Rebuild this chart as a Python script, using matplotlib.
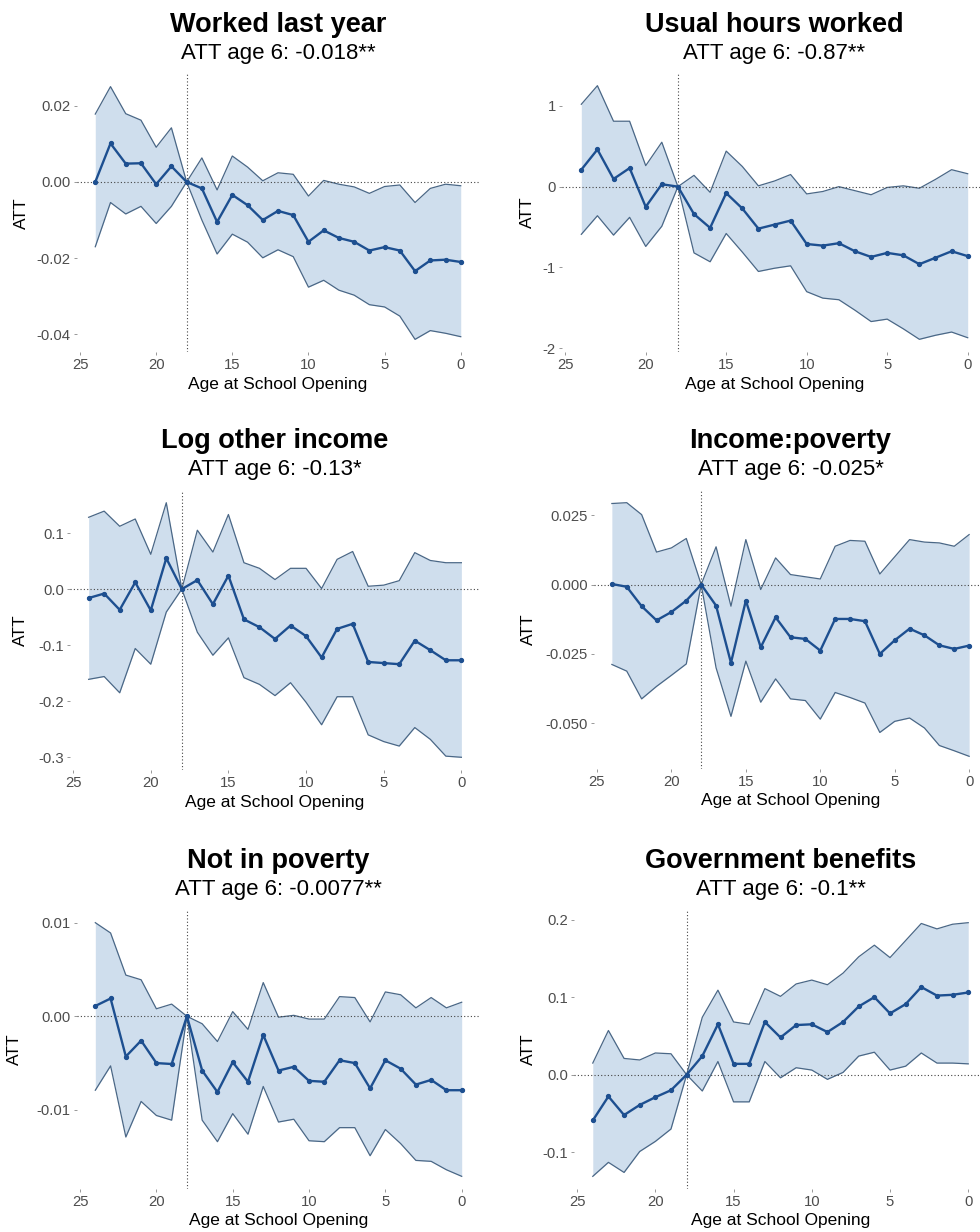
import matplotlib
matplotlib.use("Agg")
import matplotlib.pyplot as plt

plt.rcParams['font.family'] = ['Liberation Sans', 'DejaVu Sans']
plt.rcParams['axes.unicode_minus'] = False

# ages at school opening, oldest cohort first
ages = [24, 23, 22, 21, 20, 19, 18, 17, 16, 15, 14, 13, 12, 11, 10, 9, 8, 7, 6, 5, 4, 3, 2, 1, 0]

titles = ["Worked last year", "Usual hours worked", "Log other income",
          "Income:poverty", "Not in poverty", "Government benefits"]
subtitles = ["ATT age 6: -0.018**", "ATT age 6: -0.87**", "ATT age 6: -0.13*",
             "ATT age 6: -0.025*", "ATT age 6: -0.0077**", "ATT age 6: -0.1**"]

worked_est = [0.000, 0.0101, 0.0048, 0.0049, -0.0006, 0.0041, 0, -0.0017, -0.0105, -0.0034, -0.0061, -0.0100, -0.0076,
              -0.0087, -0.0157, -0.0127, -0.0147, -0.0157, -0.018, -0.0171, -0.0180, -0.0234, -0.0206, -0.0204, -0.0210]
worked_hi = [0.0178, 0.0250, 0.0179, 0.0162, 0.0091, 0.0142, 0, 0.0063, -0.0021, 0.0068, 0.0039, 0.0003, 0.0024,
             0.0020, -0.0037, 0.0004, -0.0006, -0.0013, -0.0030, -0.0012, -0.0008, -0.0054, -0.0017, -0.0006, -0.0010]
worked_lo = [-0.0170, -0.0054, -0.0084, -0.0064, -0.0109, -0.0064, 0, -0.0100, -0.0189, -0.0137, -0.0158, -0.0199, -0.0178,
             -0.0196, -0.0276, -0.0258, -0.0284, -0.0297, -0.0322, -0.0328, -0.0352, -0.0413, -0.0390, -0.0397, -0.0406]

hours_est = [0.21, 0.46, 0.095, 0.23, -0.25, 0.03, 0, -0.34, -0.51, -0.08, -0.27, -0.52, -0.47,
             -0.42, -0.71, -0.73, -0.70, -0.80, -0.87, -0.82, -0.85, -0.96, -0.88, -0.80, -0.86]
hours_hi = [1.02, 1.25, 0.81, 0.81, 0.26, 0.55, 0, 0.14, -0.07, 0.44, 0.25, 0.01, 0.07,
            0.15, -0.09, -0.06, 0.00, -0.05, -0.10, -0.01, 0.01, -0.02, 0.09, 0.21, 0.16]
hours_lo = [-0.59, -0.36, -0.60, -0.38, -0.74, -0.49, 0, -0.82, -0.93, -0.58, -0.81, -1.05, -1.01,
            -0.98, -1.30, -1.38, -1.40, -1.53, -1.67, -1.64, -1.76, -1.89, -1.84, -1.80, -1.87]

other_est = [-0.016, -0.008, -0.037, 0.012, -0.038, 0.055, 0, 0.016, -0.027, 0.024, -0.054, -0.068, -0.089,
             -0.065, -0.084, -0.122, -0.071, -0.062, -0.13, -0.132, -0.134, -0.092, -0.109, -0.127, -0.127]
other_hi = [0.128, 0.139, 0.112, 0.125, 0.062, 0.154, 0, 0.105, 0.066, 0.133, 0.047, 0.037, 0.017,
            0.037, 0.037, 0.001, 0.053, 0.067, 0.005, 0.007, 0.015, 0.065, 0.051, 0.047, 0.047]
other_lo = [-0.161, -0.156, -0.185, -0.106, -0.134, -0.041, 0, -0.077, -0.118, -0.087, -0.158, -0.170, -0.190,
            -0.167, -0.202, -0.242, -0.192, -0.192, -0.260, -0.272, -0.280, -0.247, -0.268, -0.298, -0.300]

ratio_est = [0.0002, -0.0008, -0.0078, -0.0129, -0.0099, -0.0058, 0, -0.0076, -0.0282, -0.0058, -0.0226, -0.0118, -0.0190,
             -0.0196, -0.0238, -0.0124, -0.0124, -0.0132, -0.025, -0.0201, -0.0159, -0.0183, -0.0219, -0.0232, -0.0220]
ratio_hi = [0.0292, 0.0295, 0.0252, 0.0117, 0.0132, 0.0166, 0, 0.0136, -0.0078, 0.0162, -0.0018, 0.0096, 0.0036,
            0.0028, 0.0020, 0.0138, 0.0159, 0.0156, 0.0038, 0.0100, 0.0162, 0.0153, 0.0150, 0.0138, 0.0180]
ratio_lo = [-0.0288, -0.0312, -0.0412, -0.0367, -0.0327, -0.0286, 0, -0.0300, -0.0475, -0.0276, -0.0424, -0.0340, -0.0412,
            -0.0418, -0.0485, -0.0389, -0.0407, -0.0427, -0.0533, -0.0493, -0.0481, -0.0517, -0.0580, -0.0599, -0.0619]

pov_est = [0.0011, 0.0019, -0.0043, -0.0026, -0.0050, -0.0051, 0, -0.0058, -0.0081, -0.0049, -0.0070, -0.0020, -0.0058,
           -0.0054, -0.0069, -0.0070, -0.0047, -0.0050, -0.0077, -0.0047, -0.0056, -0.0073, -0.0068, -0.0079, -0.0079]
pov_hi = [0.0100, 0.0089, 0.0044, 0.0039, 0.0008, 0.0013, 0, -0.0008, -0.0027, 0.0005, -0.0014, 0.0036, -0.0001,
          0.0001, -0.0003, -0.0003, 0.0021, 0.0020, -0.0006, 0.0026, 0.0023, 0.0009, 0.0020, 0.0009, 0.0015]
pov_lo = [-0.0079, -0.0053, -0.0129, -0.0091, -0.0106, -0.0111, 0, -0.0111, -0.0134, -0.0104, -0.0126, -0.0075, -0.0113,
          -0.0110, -0.0133, -0.0134, -0.0119, -0.0119, -0.0149, -0.0121, -0.0136, -0.0154, -0.0155, -0.0164, -0.0171]

gov_est = [-0.059, -0.028, -0.052, -0.039, -0.029, -0.020, 0, 0.024, 0.065, 0.014, 0.014, 0.068, 0.048,
           0.064, 0.065, 0.055, 0.068, 0.088, 0.100, 0.079, 0.091, 0.113, 0.102, 0.103, 0.106]
gov_hi = [0.015, 0.057, 0.021, 0.019, 0.028, 0.027, 0, 0.074, 0.109, 0.068, 0.065, 0.111, 0.101,
          0.117, 0.122, 0.116, 0.131, 0.152, 0.167, 0.151, 0.173, 0.195, 0.188, 0.194, 0.196]
gov_lo = [-0.131, -0.113, -0.126, -0.099, -0.086, -0.070, 0, -0.021, 0.017, -0.035, -0.035, 0.017, -0.004,
          0.009, 0.006, -0.006, 0.003, 0.024, 0.029, 0.006, 0.011, 0.028, 0.015, 0.015, 0.014]

series = [(worked_est, worked_lo, worked_hi), (hours_est, hours_lo, hours_hi),
          (other_est, other_lo, other_hi), (ratio_est, ratio_lo, ratio_hi),
          (pov_est, pov_lo, pov_hi), (gov_est, gov_lo, gov_hi)]

yticks = [[-0.04, -0.02, 0.0, 0.02], [-2, -1, 0, 1], [-0.3, -0.2, -0.1, 0.0, 0.1],
          [-0.05, -0.025, 0.0, 0.025], [-0.01, 0.0, 0.01], [-0.1, 0.0, 0.1, 0.2]]
yfmt = ["{:.2f}", "{:.0f}", "{:.1f}", "{:.3f}", "{:.2f}", "{:.1f}"]
xticks = [0, 5, 10, 15, 20, 25]

W, H = 980, 1232
# panel boxes in pixels: left, right, top, bottom
boxes = [(77, 479, 74, 352), (562, 987, 73, 352),
         (70, 480, 490, 770), (594, 987, 490, 769),
         (77, 480, 910, 1189), (574, 987, 910, 1189)]
ylab_x = [21, 527, 20, 528, 14, 528]

fig = plt.figure(figsize=(W / 100, H / 100), dpi=100)

line_col = "#1d4f90"
fill_col = "#cfdeed"
edge_col = "#4a6786"
text_grey = "#4d4d4d"

for i, (est, lo, hi) in enumerate(series):
    l, r, t, b = boxes[i]
    ax = fig.add_axes([l / W, 1 - b / H, (r - l) / W, (b - t) / H])
    ax.fill_between(ages, lo, hi, color=fill_col, lw=0)
    ax.plot(ages, hi, color=edge_col, lw=0.9)
    ax.plot(ages, lo, color=edge_col, lw=0.9)
    ax.axhline(0, color="#444444", lw=0.8, ls=(0, (1, 2)))
    ax.axvline(18, color="#444444", lw=0.8, ls=(0, (1, 2)))
    ax.plot(ages, est, color=line_col, lw=1.7, marker="o", ms=2.8)
    ax.margins(0.05)
    ax.invert_xaxis()
    ax.set_xticks(xticks)
    ax.set_xticklabels([str(v) for v in xticks])
    ax.set_yticks(yticks[i])
    ax.set_yticklabels([yfmt[i].format(v) for v in yticks[i]])
    ax.tick_params(length=2.5, width=0.6, color="#888888", pad=2,
                   labelsize=10.7, labelcolor=text_grey)
    for s in ax.spines.values():
        s.set_visible(False)

    cx = (l + r) / 2
    row = i // 2
    off = [0, 416, 836][row]
    fig.text(cx / W, 1 - (32 + off) / H, titles[i], ha="center", va="baseline",
             fontsize=19.5, fontweight="bold")
    fig.text(cx / W, 1 - (59 + off) / H, subtitles[i], ha="center", va="baseline",
             fontsize=16)
    fig.text(ylab_x[i] / W, 1 - ((t + b) / 2) / H, "ATT", rotation=90,
             ha="center", va="center", fontsize=12.5)
    fig.text(cx / W, 1 - (b + 32) / H, "Age at School Opening", ha="center",
             va="center", fontsize=12.5)

fig.savefig("out.png", dpi=100, facecolor="white")
